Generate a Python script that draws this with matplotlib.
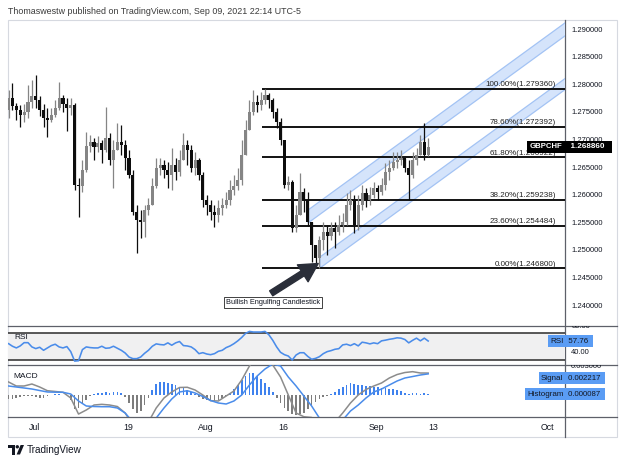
import numpy as np
import matplotlib
matplotlib.use("Agg")
import matplotlib.pyplot as plt
from matplotlib.lines import Line2D
from matplotlib.patches import Rectangle, Polygon, Circle, FancyArrowPatch
import matplotlib.transforms as mtransforms

# ---------------- data ----------------
symbol = "GBPCHF"
header = "Thomaswestw published on TradingView.com, Sep 09, 2021 22:14 UTC-5"

# 12-hour bars, x = trading-day index (Jul 1 = 0)
bar_start_day = -3.4
bar_step = 0.5
first_open = 1.27550
closes = [1.27768, 1.27623, 1.27551, 1.27460, 1.27514, 1.27696, 1.27804, 1.27732, 1.27551, 1.27406,
          1.27370, 1.27460, 1.27587, 1.27768, 1.27659, 1.27587, 1.27641, 1.26192, 1.26174, 1.26464,
          1.26899, 1.26971, 1.26880, 1.26953, 1.26826, 1.27043, 1.26645, 1.26826, 1.26971, 1.26917,
          1.26681, 1.26373, 1.25703, 1.25558, 1.25522, 1.25739, 1.25830, 1.26174, 1.26500, 1.26554,
          1.26464, 1.26373, 1.26554, 1.26428, 1.26645, 1.26917, 1.26826, 1.26500, 1.26645, 1.26373,
          1.25920, 1.25830, 1.25703, 1.25649, 1.25775, 1.25830, 1.25920, 1.26101, 1.26174, 1.26283,
          1.26736, 1.27188, 1.27514, 1.27696, 1.27641, 1.27732, 1.27822, 1.27732, 1.27514, 1.27333,
          1.27007, 1.26192, 1.26246, 1.25413, 1.25649, 1.26065, 1.25920, 1.25522, 1.25105, 1.24870,
          1.25196, 1.25341, 1.25268, 1.25413, 1.25341, 1.25467, 1.25522, 1.25830, 1.25920, 1.25467,
          1.25830, 1.26047, 1.25920, 1.26011, 1.26138, 1.26065, 1.26192, 1.26428, 1.26500, 1.26609,
          1.26645, 1.26681, 1.26500, 1.26373, 1.26645, 1.26736, 1.26971, 1.26736, 1.26886]
highs = [1.27913, 1.28040, 1.27678, 1.27641, 1.27659, 1.28004, 1.28094, 1.28185, 1.27804, 1.27659,
         1.27587, 1.27587, 1.27732, 1.28058, 1.27822, 1.27768, 1.27768, 1.27678, 1.26319, 1.26645,
         1.27152, 1.27098, 1.27043, 1.27080, 1.27007, 1.27605, 1.27134, 1.27007, 1.27315, 1.27279,
         1.27007, 1.26826, 1.26464, 1.25830, 1.25739, 1.25830, 1.25957, 1.26319, 1.26681, 1.26681,
         1.26645, 1.26609, 1.26862, 1.26681, 1.26826, 1.27134, 1.27007, 1.26917, 1.26790, 1.26681,
         1.26428, 1.26011, 1.25920, 1.25830, 1.25920, 1.25957, 1.26065, 1.26283, 1.26373, 1.26500,
         1.27007, 1.27370, 1.27732, 1.27913, 1.27822, 1.27877, 1.27936, 1.27859, 1.27768, 1.27587,
         1.27406, 1.26826, 1.26355, 1.26283, 1.25830, 1.26409, 1.26138, 1.26065, 1.25522, 1.25105,
         1.25268, 1.25522, 1.25467, 1.25522, 1.25522, 1.25649, 1.25685, 1.26047, 1.26101, 1.26011,
         1.26011, 1.26192, 1.26138, 1.26156, 1.26246, 1.26192, 1.26319, 1.26591, 1.26645, 1.26790,
         1.26790, 1.26826, 1.26681, 1.26645, 1.26790, 1.26862, 1.27098, 1.27315, 1.27043]
lows = [1.27406, 1.27551, 1.27370, 1.27243, 1.27333, 1.27406, 1.27587, 1.27587, 1.27442, 1.27243,
        1.27062, 1.27333, 1.27424, 1.27551, 1.27514, 1.27170, 1.27460, 1.26101, 1.25612, 1.26065,
        1.26428, 1.26790, 1.26645, 1.26790, 1.26591, 1.26790, 1.26554, 1.26138, 1.26826, 1.26736,
        1.26464, 1.26319, 1.25649, 1.24960, 1.25232, 1.25250, 1.25649, 1.25830, 1.26138, 1.26373,
        1.26319, 1.26138, 1.26101, 1.26283, 1.26355, 1.26645, 1.26554, 1.26428, 1.26373, 1.26283,
        1.25793, 1.25649, 1.25558, 1.25431, 1.25522, 1.25649, 1.25775, 1.25830, 1.26011, 1.26101,
        1.26192, 1.26790, 1.27188, 1.27460, 1.27514, 1.27551, 1.27659, 1.27587, 1.27406, 1.27225,
        1.26917, 1.26138, 1.26101, 1.25341, 1.25341, 1.25703, 1.25703, 1.25449, 1.24797, 1.24725,
        1.24680, 1.25014, 1.24924, 1.25196, 1.25051, 1.25286, 1.25341, 1.25467, 1.25739, 1.25322,
        1.25377, 1.25739, 1.25793, 1.25830, 1.25957, 1.25920, 1.26011, 1.26101, 1.26283, 1.26464,
        1.26500, 1.26554, 1.26428, 1.25920, 1.26319, 1.26554, 1.26826, 1.26645, 1.26717]

fib_ratios = [0.0, 0.236, 0.382, 0.618, 0.786, 1.0]
fib_low = 1.24680
fib_high = 1.27936
fib_start_day = 29.2

channel_start_day = [35.14, 36.68]
channel_top_start = [1.25739, 1.24888]
channel_bot_start = [1.25504, 1.24688]
channel_slope = 0.001025
channel_end_day = 80.0

note_text = "Bullish Engulfing Candlestick"
note_xy = (30.63, 1.24063)
arrow_tail = (30.4, 1.24230)
arrow_head = (36.45, 1.24770)

price_ticks = [1.240, 1.245, 1.250, 1.255, 1.260, 1.265, 1.270, 1.275, 1.280, 1.285, 1.290]

rsi_values = [53.8, 50.0, 47.5, 50.5, 55.3, 55.3, 49.0, 46.5, 48.5, 44.0,
              47.5, 51.0, 53.0, 49.0, 47.5, 49.5, 42.0, 28.0, 28.5, 45.0,
              49.0, 48.0, 47.5, 47.5, 50.0, 47.0, 47.5, 50.0, 47.0, 44.0,
              40.0, 34.0, 31.6, 31.6, 34.0, 39.5, 44.0, 50.0, 53.5, 52.5,
              52.0, 55.0, 51.5, 55.0, 57.0, 51.0, 50.4, 49.0, 45.0, 39.0,
              40.5, 38.5, 37.5, 39.0, 42.5, 44.0, 48.0, 50.4, 53.8, 58.0,
              63.0, 69.0, 72.0, 71.1, 71.1, 71.1, 72.0, 67.0, 58.8, 49.0,
              41.0, 37.5, 35.5, 29.5, 37.0, 40.4, 40.4, 35.0, 30.7, 32.0,
              34.5, 39.0, 42.0, 43.5, 45.5, 46.4, 52.0, 53.0, 51.0, 53.8,
              50.5, 56.0, 55.0, 53.5, 55.0, 53.8, 58.0, 59.0, 60.3, 61.2,
              62.5, 62.0, 60.0, 55.0, 58.8, 62.0, 58.0, 62.0, 57.76]
rsi_bands = [30, 70]
rsi_ticks = [40, 80]

macd_hist = [-0.00042, -0.00042, -0.00032, -0.00021, -0.00011, -0.00011, -0.00011, -0.00021, -0.00032, -0.00032,
             -0.00011, 0.00005, 0.00011, 0.00011, 0.00005, 0.00005, -0.00053, -0.00147, -0.00137, -0.00095,
             -0.00053, -0.00011, 0.00011, 0.00016, 0.00026, 0.00032, 0.00021, 0.00032, 0.00032, 0.00021,
             -0.00021, -0.00084, -0.00147, -0.00189, -0.00168, -0.00105, -0.00032, 0.00053, 0.00116, 0.00137,
             0.00137, 0.00126, 0.00116, 0.00105, 0.00084, 0.00074, 0.00053, 0.00032, 0.00011, -0.00021,
             -0.00042, -0.00053, -0.00063, -0.00063, -0.00053, -0.00032, -0.00011, 0.00021, 0.00063, 0.00105,
             0.00158, 0.00200, 0.00231, 0.00231, 0.00200, 0.00168, 0.00126, 0.00084, 0.00032, -0.00032,
             -0.00084, -0.00137, -0.00168, -0.00200, -0.00210, -0.00200, -0.00189, -0.00147, -0.00105, -0.00074,
             -0.00042, -0.00021, -0.00011, 0.00011, 0.00032, 0.00063, 0.00084, 0.00105, 0.00126, 0.00116,
             0.00105, 0.00105, 0.00095, 0.00095, 0.00084, 0.00084, 0.00074, 0.00074, 0.00063, 0.00063,
             0.00053, 0.00042, 0.00021, 0.00011, 0.00016, 0.00016, 0.00011, 0.00016, 0.000087]
# daily samples
line_start_day = -3.4
macd_line = [0.001365, 0.000945, 0.000945, 0.001155, 0.00084, 0.00045, 0.00037, 0.000285, -0.000315, -0.002,
             -0.001575, -0.00105, -0.00098, -0.00105, -0.00121, -0.00189, -0.00315, -0.003885, -0.002835, -0.001365,
             -0.000315, 0.000315, 0.00079, 0.00081, 0.000525, 0.0, -0.0006, -0.00063, -0.000105, 0.00042,
             0.001575, 0.003045, 0.0042, 0.004515, 0.00315, 0.00189, 0.0, -0.00189, -0.00228, -0.00236,
             -0.002835, -0.00315, -0.002835, -0.00189, -0.00084, 0.0, 0.00058, 0.000945, 0.00126, 0.001785,
             0.00215, 0.00236, 0.00245, 0.00231, 0.002304]
signal_line = [0.000945, 0.00084, 0.000735, 0.00063, 0.00047, 0.000315, 0.000295, 0.000285, 0.000105, -0.00063,
               -0.001155, -0.00121, -0.00123, -0.00123, -0.001365, -0.00189, -0.002835, -0.003465, -0.003465, -0.002415,
               -0.001365, -0.00042, 0.000315, 0.00045, 0.00021, -0.00016, -0.00058, -0.00084, -0.000945, -0.00063,
               0.0, 0.00105, 0.002, 0.00273, 0.003255, 0.003045, 0.00189, 0.000945, -0.000105, -0.001155,
               -0.002415, -0.00315, -0.00336, -0.002625, -0.00168, -0.00105, -0.000315, 0.000315, 0.00063, 0.00105,
               0.00147, 0.001785, 0.00194, 0.0021, 0.002217]
macd_ticks = [0.003]

time_tick_days = [0, 12, 22, 32, 44, 51.3, 66]
time_tick_labels = ["Jul", "19", "Aug", "16", "Sep", "13", "Oct"]

# ---------------- layout ----------------
W, H = 624, 465
XLIM = (-3.475, 68.21)
PRICE_LIM = (1.236377, 1.291812)
RSI_LIM = (22.2, 80.0)
MACD_LIM = (-0.00231, 0.00315)

plt.rcParams['font.family'] = ['Liberation Sans', 'DejaVu Sans']
fig = plt.figure(figsize=(W / 100, H / 100), dpi=100)
fig.patch.set_facecolor('white')

def axes_px(x0, y0, x1, y1, z=1):
    a = fig.add_axes([x0 / W, 1 - y1 / H, (x1 - x0) / W, (y1 - y0) / H], zorder=z)
    a.set_axis_off()
    a.patch.set_alpha(0)
    return a

def fig_line(x0, y0, x1, y1, color, lw):
    fig.add_artist(Line2D([x0 / W, x1 / W], [1 - y0 / H, 1 - y1 / H],
                          transform=fig.transFigure, color=color, lw=lw, zorder=0))

TXT = '#131722'
BLUE = '#4a8cea'
BOXBLUE = '#5a9cf4'
GRAY = '#8c8c8c'

# frame
fig.add_artist(Rectangle((8 / W, 1 - 437 / H), (617 - 8) / W, (437 - 20) / H,
                         transform=fig.transFigure, fill=False, ec='#d6d9e0', lw=0.8, zorder=0))
for yy in (326, 365, 417):
    fig_line(8, yy, 617, yy, '#5d6069', 0.9)
fig_line(565, 20, 565, 437, '#5d6069', 0.9)

# ---------------- main pane ----------------
ax = axes_px(8, 20, 565, 326, z=2)
ax.set_xlim(*XLIM)
ax.set_ylim(*PRICE_LIM)

n = len(closes)
days = bar_start_day + bar_step * np.arange(n)
c = np.array(closes)
o = np.r_[first_open, c[:-1]]
hi = np.maximum(np.array(highs), np.maximum(o, c))
lo = np.minimum(np.array(lows), np.minimum(o, c))
up = c >= o
cols = np.where(up, '#858585', '#0d0d0d')
ax.vlines(days, lo, hi, colors=cols, lw=0.9, zorder=3)
ax.bar(days, np.maximum(np.abs(c - o), 0.0001), bottom=np.minimum(o, c), width=0.4,
       color=cols, lw=0, zorder=4)

# channel bands
for sd, t0, b0 in zip(channel_start_day, channel_top_start, channel_bot_start):
    dx = channel_end_day - sd
    poly = Polygon([(sd, b0), (channel_end_day, b0 + channel_slope * dx),
                    (channel_end_day, t0 + channel_slope * dx), (sd, t0)],
                   closed=True, fc='#d5e4fb', ec='#a3c3f4', lw=0.9, zorder=1)
    ax.add_patch(poly)

# fibonacci
for r in fib_ratios:
    p = fib_low + r * (fib_high - fib_low)
    ax.plot([fib_start_day, XLIM[1]], [p, p], color='black', lw=1.3, zorder=2,
            solid_capstyle='butt')
    ax.annotate(f"{r * 100:.2f}%({p:.6f})", xy=(67.05, p), xytext=(0, 0.6),
                textcoords='offset points', ha='right', va='bottom',
                fontsize=5.8, color='#222222', zorder=5)

# annotation
ax.add_patch(FancyArrowPatch(arrow_tail, arrow_head,
                             arrowstyle='simple,head_length=1.1,head_width=1.2,tail_width=0.35',
                             mutation_scale=12, color='#2a2e39', shrinkA=0, shrinkB=0, zorder=6))
ax.text(note_xy[0], note_xy[1], note_text, ha='center', va='center', fontsize=5.3, color=TXT,
        bbox=dict(boxstyle='square,pad=0.3', fc='white', ec='#222222', lw=0.6), zorder=7)

# symbol label
ax.text(XLIM[1] - 0.35, closes[-1], symbol, ha='right', va='center', fontsize=5.6,
        color='white', fontweight='bold', zorder=8,
        bbox=dict(boxstyle='square,pad=0.3', fc='black', ec='none'))

# price scale
axp = axes_px(565, 20, 617, 326, z=2)
axp.set_xlim(0, 1)
axp.set_ylim(*PRICE_LIM)
for p in price_ticks:
    axp.text(0.12, p, f"{p:.6f}", ha='left', va='center', fontsize=5.5, color=TXT, clip_on=True)
axp.text(0.02, closes[-1], f"  {closes[-1]:.6f}  ", ha='left', va='center', fontsize=5.9,
         color='white', fontweight='bold', zorder=8,
         bbox=dict(boxstyle='square,pad=0.32', fc='black', ec='none'))

# ---------------- RSI pane ----------------
axr = axes_px(8, 326, 565, 365, z=2)
axr.set_xlim(*XLIM)
axr.set_ylim(*RSI_LIM)
axr.axhspan(rsi_bands[0], rsi_bands[1], color='#f0f0f1', zorder=0, lw=0)
for b in rsi_bands:
    axr.axhline(b, color='#2b2b2b', lw=1.1, zorder=1)
axr.plot(days, rsi_values, color=BLUE, lw=1.15, zorder=3)
axr.text(0.011, 0.70, 'RSI', transform=axr.transAxes, fontsize=6, color=TXT, va='center')
axr.text(0.997, rsi_values[-1], 'RSI', transform=mtransforms.blended_transform_factory(axr.transAxes, axr.transData),
         ha='right', va='center', fontsize=5.8, color=TXT, zorder=8,
         bbox=dict(boxstyle='square,pad=0.3', fc=BOXBLUE, ec='none'))

axrp = axes_px(565, 326, 617, 365, z=2)
axrp.set_xlim(0, 1)
axrp.set_ylim(*RSI_LIM)
for t in rsi_ticks:
    axrp.text(0.12, t, f"{t:.2f}", ha='left', va='center', fontsize=5.5, color=TXT, clip_on=True)
axrp.text(0.02, rsi_values[-1], f" {rsi_values[-1]:.2f} ", ha='left', va='center', fontsize=5.8,
          color=TXT, zorder=8, bbox=dict(boxstyle='square,pad=0.3', fc=BOXBLUE, ec='none'))

# ---------------- MACD pane ----------------
axm = axes_px(8, 365, 565, 417, z=2)
axm.set_xlim(*XLIM)
axm.set_ylim(*MACD_LIM)
hv = np.array(macd_hist)
axm.bar(days, hv, width=0.22, color=np.where(hv >= 0, '#3f82ee', '#7d7d7d'), lw=0, zorder=2)
ldays = line_start_day + np.arange(len(macd_line))
axm.plot(ldays, macd_line, color=GRAY, lw=1.1, zorder=3)
axm.plot(ldays, signal_line, color=BLUE, lw=1.1, zorder=4)
axm.text(0.009, 0.77, 'MACD', transform=axm.transAxes, fontsize=6, color=TXT, va='center')
bt = mtransforms.blended_transform_factory(axm.transAxes, axm.transData)
axm.annotate('Signal', xy=(0.997, signal_line[-1]), xycoords=bt, xytext=(0, -3),
             textcoords='offset points', ha='right', va='center', fontsize=5.8, color=TXT, zorder=8,
             bbox=dict(boxstyle='square,pad=0.3', fc=BOXBLUE, ec='none'))
axm.annotate('Histogram', xy=(0.997, macd_hist[-1]), xycoords=bt, xytext=(0, 0),
             textcoords='offset points', ha='right', va='center', fontsize=5.8, color=TXT, zorder=8,
             bbox=dict(boxstyle='square,pad=0.3', fc=BOXBLUE, ec='none'))

axmp = axes_px(565, 365, 617, 417, z=2)
axmp.set_xlim(0, 1)
axmp.set_ylim(*MACD_LIM)
for t in macd_ticks:
    axmp.text(0.12, t, f"{t:.6f}", ha='left', va='center', fontsize=5.5, color=TXT, clip_on=True)
axmp.annotate(f" {signal_line[-1]:.6f} ", xy=(0.02, signal_line[-1]), xytext=(0, -3),
              textcoords='offset points', ha='left', va='center', fontsize=5.6, color=TXT, zorder=8,
              bbox=dict(boxstyle='square,pad=0.3', fc=BOXBLUE, ec='none'))
axmp.annotate(f" {macd_hist[-1]:.6f} ", xy=(0.02, macd_hist[-1]), xytext=(0, 0),
              textcoords='offset points', ha='left', va='center', fontsize=5.6, color=TXT, zorder=8,
              bbox=dict(boxstyle='square,pad=0.3', fc=BOXBLUE, ec='none'))

# ---------------- time axis ----------------
axt = axes_px(8, 417, 565, 437, z=2)
axt.set_xlim(*XLIM)
axt.set_ylim(0, 1)
for d, lab in zip(time_tick_days, time_tick_labels):
    axt.text(d, 0.5, lab, ha='center', va='center', fontsize=6.3, color=TXT)

# ---------------- header / footer ----------------
fig.text(8 / W, 1 - 12 / H, header, fontsize=6.4, color='#3a3a3a', va='center', ha='left')

axl = axes_px(8, 443, 24, 456, z=2)
axl.set_xlim(0, 16)
axl.set_ylim(13, 0)
axl.add_patch(Rectangle((0, 2), 7, 3, fc=TXT, ec='none'))
axl.add_patch(Rectangle((3.6, 2), 3.4, 9.5, fc=TXT, ec='none'))
axl.add_patch(Circle((9.3, 3.8), 1.7, fc=TXT, ec='none'))
axl.add_patch(Polygon([(8.6, 11.5), (12.6, 2), (16, 2), (12, 11.5)], closed=True, fc=TXT, ec='none'))
fig.text(27 / W, 1 - 450 / H, 'TradingView', fontsize=7.2, color=TXT, va='center', ha='left')

fig.savefig('out.png', dpi=100, facecolor='white')
